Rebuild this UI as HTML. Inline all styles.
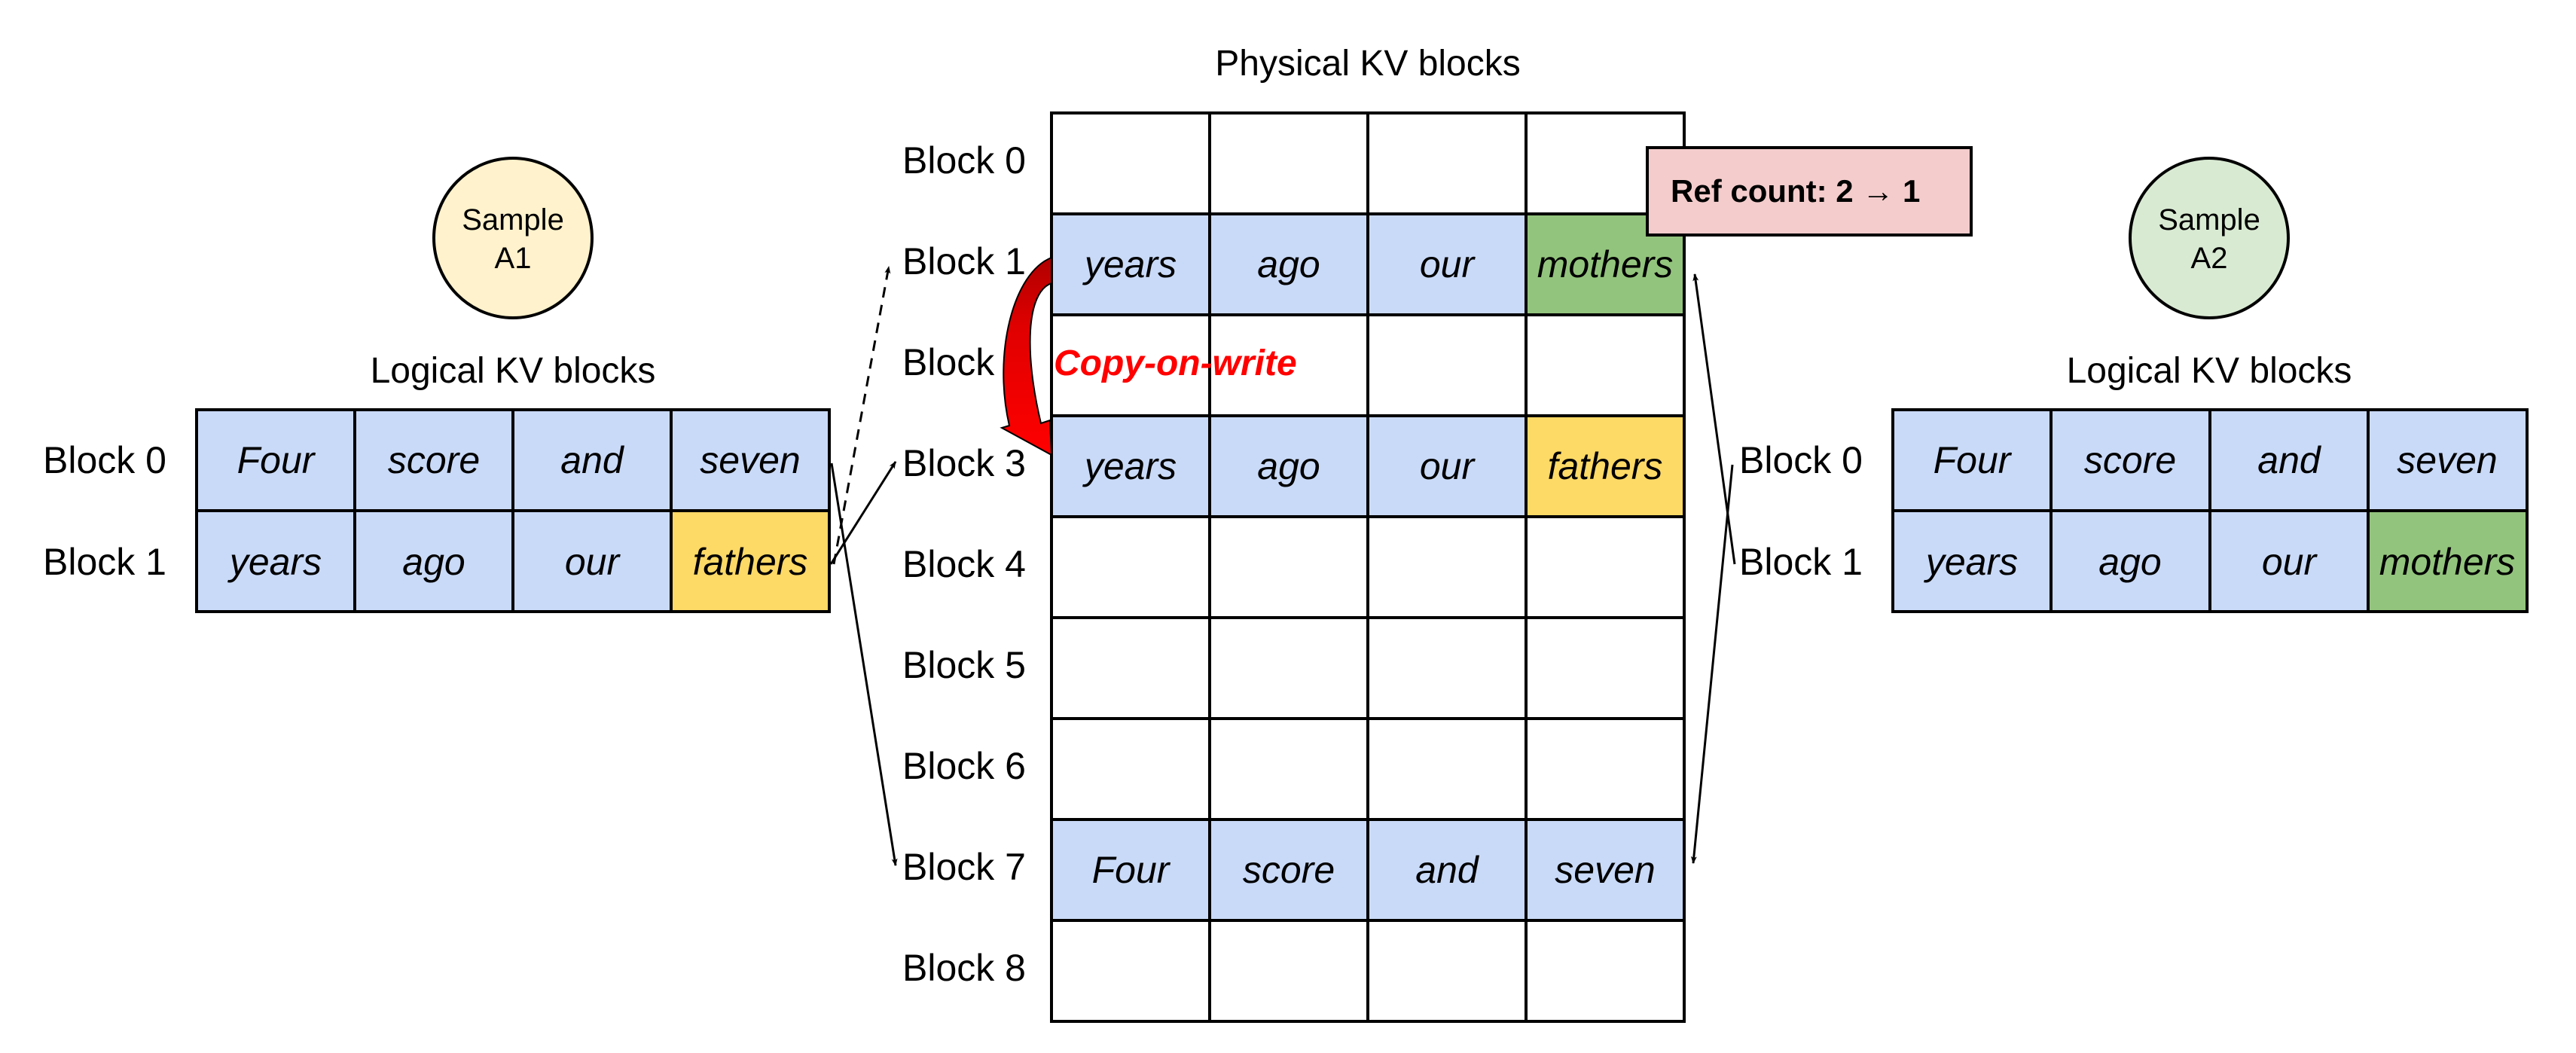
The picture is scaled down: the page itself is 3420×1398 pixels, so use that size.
<!DOCTYPE html>
<html><head><meta charset="utf-8"><style>
html,body{margin:0;padding:0;background:#fff;}
svg{display:block;}
text{font-family:"Liberation Sans",sans-serif;fill:#000;}
.i{font-style:italic;font-size:50px;}
.l{font-size:50px;}
</style></head><body>
<svg width="3420" height="1398" viewBox="0 0 3420 1398" xmlns="http://www.w3.org/2000/svg">
<defs>
<marker id="ah" markerWidth="10" markerHeight="10" refX="9" refY="5" orient="auto" markerUnits="userSpaceOnUse" viewBox="0 0 10 10"><path d="M0,1 L10,5 L0,9 L2.5,5 Z" fill="#000"/></marker>
<linearGradient id="rg" x1="0" y1="0" x2="0" y2="1"><stop offset="0" stop-color="#b00000"/><stop offset="0.35" stop-color="#e00000"/><stop offset="1" stop-color="#ff0000"/></linearGradient>
</defs>

<!-- Titles -->
<text x="1816" y="100" font-size="48" text-anchor="middle">Physical KV blocks</text>

<!-- Physical grid -->
<g stroke="#000" stroke-width="4">
<rect x="1396" y="284" width="840" height="134" fill="#c9daf8"/>
<rect x="2026" y="284" width="210" height="134" fill="#93c47d"/>
<rect x="1396" y="552" width="840" height="134" fill="#c9daf8"/>
<rect x="2026" y="552" width="210" height="134" fill="#fdd966"/>
<rect x="1396" y="1088" width="840" height="134" fill="#c9daf8"/>
<rect x="1396" y="150" width="840" height="1206" fill="none"/>
<line x1="1606" y1="150" x2="1606" y2="1356"/>
<line x1="1816" y1="150" x2="1816" y2="1356"/>
<line x1="2026" y1="150" x2="2026" y2="1356"/>
<line x1="1396" y1="284" x2="2236" y2="284"/>
<line x1="1396" y1="418" x2="2236" y2="418"/>
<line x1="1396" y1="552" x2="2236" y2="552"/>
<line x1="1396" y1="686" x2="2236" y2="686"/>
<line x1="1396" y1="820" x2="2236" y2="820"/>
<line x1="1396" y1="954" x2="2236" y2="954"/>
<line x1="1396" y1="1088" x2="2236" y2="1088"/>
<line x1="1396" y1="1222" x2="2236" y2="1222"/>
</g>
<g class="l">
<text x="1198" y="230" class="l">Block 0</text>
<text x="1198" y="364" class="l">Block 1</text>
<text x="1198" y="498" class="l">Block 2</text>
<text x="1198" y="632" class="l">Block 3</text>
<text x="1198" y="766" class="l">Block 4</text>
<text x="1198" y="900" class="l">Block 5</text>
<text x="1198" y="1034" class="l">Block 6</text>
<text x="1198" y="1168" class="l">Block 7</text>
<text x="1198" y="1302" class="l">Block 8</text>
</g>
<g class="i" text-anchor="middle">
<text x="1501" y="368" class="i">years</text>
<text x="1711" y="368" class="i">ago</text>
<text x="1921" y="368" class="i">our</text>
<text x="2131" y="368" class="i">mothers</text>
<text x="1501" y="636" class="i">years</text>
<text x="1711" y="636" class="i">ago</text>
<text x="1921" y="636" class="i">our</text>
<text x="2131" y="636" class="i">fathers</text>
<text x="1501" y="1172" class="i">Four</text>
<text x="1711" y="1172" class="i">score</text>
<text x="1921" y="1172" class="i">and</text>
<text x="2131" y="1172" class="i">seven</text>
</g>

<!-- Ref count -->
<rect x="2187" y="196" width="430" height="116" fill="#f4cccc" stroke="#000" stroke-width="4"/>
<text x="2218" y="268" font-size="42" font-weight="bold">Ref count: 2 → 1</text>

<!-- Copy-on-write -->
<text x="1399" y="498" font-size="48" font-weight="bold" font-style="italic" style="fill:#ff0000">Copy-on-write</text>
<path d="M1396,342 C1345,362 1318,470 1340,565 L1330,568 L1396,604 L1394,558 L1382,562 C1360,470 1362,388 1396,376 Z" fill="url(#rg)" stroke="#000" stroke-width="2"/>

<!-- Left sample -->
<ellipse cx="681" cy="316" rx="105" ry="106" fill="#fff2cc" stroke="#000" stroke-width="4"/>
<text x="681" y="305" font-size="40" text-anchor="middle">Sample</text>
<text x="681" y="356" font-size="40" text-anchor="middle">A1</text>
<text x="681" y="508" font-size="48" text-anchor="middle">Logical KV blocks</text>
<g stroke="#000" stroke-width="4">
<rect x="261" y="544" width="840" height="268" fill="#c9daf8"/>
<rect x="891" y="678" width="210" height="134" fill="#fdd966"/>
<line x1="471" y1="544" x2="471" y2="812"/>
<line x1="681" y1="544" x2="681" y2="812"/>
<line x1="891" y1="544" x2="891" y2="812"/>
<line x1="261" y1="678" x2="1101" y2="678"/>
</g>
<text x="57" y="628" class="l">Block 0</text>
<text x="57" y="763" class="l">Block 1</text>
<g text-anchor="middle">
<text x="366" y="628" class="i">Four</text>
<text x="576" y="628" class="i">score</text>
<text x="786" y="628" class="i">and</text>
<text x="996" y="628" class="i">seven</text>
<text x="366" y="763" class="i">years</text>
<text x="576" y="763" class="i">ago</text>
<text x="786" y="763" class="i">our</text>
<text x="996" y="763" class="i">fathers</text>
</g>

<!-- Right sample -->
<ellipse cx="2933" cy="316" rx="105" ry="106" fill="#d9ead3" stroke="#000" stroke-width="4"/>
<text x="2933" y="305" font-size="40" text-anchor="middle">Sample</text>
<text x="2933" y="356" font-size="40" text-anchor="middle">A2</text>
<text x="2933" y="508" font-size="48" text-anchor="middle">Logical KV blocks</text>
<g stroke="#000" stroke-width="4">
<rect x="2513" y="544" width="842" height="268" fill="#c9daf8"/>
<rect x="3144" y="678" width="211" height="134" fill="#93c47d"/>
<line x1="2723" y1="544" x2="2723" y2="812"/>
<line x1="2934" y1="544" x2="2934" y2="812"/>
<line x1="3144" y1="544" x2="3144" y2="812"/>
<line x1="2513" y1="678" x2="3355" y2="678"/>
</g>
<text x="2309" y="628" class="l">Block 0</text>
<text x="2309" y="763" class="l">Block 1</text>
<g text-anchor="middle">
<text x="2618" y="628" class="i">Four</text>
<text x="2828" y="628" class="i">score</text>
<text x="3039" y="628" class="i">and</text>
<text x="3249" y="628" class="i">seven</text>
<text x="2618" y="763" class="i">years</text>
<text x="2828" y="763" class="i">ago</text>
<text x="3039" y="763" class="i">our</text>
<text x="3249" y="763" class="i">mothers</text>
</g>

<!-- Connectors -->
<g stroke="#000" stroke-width="3" fill="none">
<line x1="1107" y1="749" x2="1180" y2="354" stroke-dasharray="14,10" marker-end="url(#ah)"/>
<line x1="1103" y1="749" x2="1189" y2="613" marker-end="url(#ah)"/>
<line x1="1104" y1="615" x2="1189" y2="1149" marker-end="url(#ah)"/>
<line x1="2300" y1="617" x2="2248" y2="1146" marker-end="url(#ah)"/>
<line x1="2303" y1="749" x2="2250" y2="364" marker-end="url(#ah)"/>
</g>
</svg>
</body></html>
